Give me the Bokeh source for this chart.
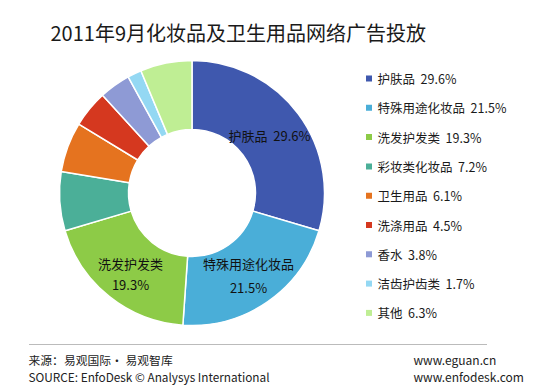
import math
from bokeh.plotting import figure
from bokeh.models import Range1d, ColumnDataSource
from bokeh.core.properties import value
from bokeh.embed import file_html
from bokeh.resources import INLINE

title = "2011年9月化妆品及卫生用品网络广告投放"
categories = ["护肤品", "特殊用途化妆品", "洗发护发类", "彩妆类化妆品", "卫生用品",
              "洗涤用品", "香水", "洁齿护齿类", "其他"]
shares = [29.6, 21.5, 19.3, 7.2, 6.1, 4.5, 3.8, 1.7, 6.3]
colors = ["#3F58AE", "#4AAED8", "#8DCB47", "#4BAF98", "#E5731F",
          "#D5381F", "#8E9AD5", "#94D8F3", "#BFEE94"]
footer_left = ["来源：易观国际· 易观智库", "SOURCE: EnfoDesk © Analysys International"]
footer_right = ["www.eguan.cn", "www.enfodesk.com"]

W, H = 547, 389
FONT = value("Noto Sans CJK SC")
GAP = "\u00a0\u00a0"

def Y(y):
    return H - y

p = figure(width=W, height=H, output_backend="svg", toolbar_location=None,
           x_range=Range1d(0, W), y_range=Range1d(0, H), min_border=0)
p.axis.visible = False
p.grid.visible = False
p.outline_line_color = None
p.background_fill_color = "white"
p.border_fill_color = "white"

# donut
cx, cy, r_out, r_in = 191.5, 192.5, 132.5, 63.5
total = sum(shares)
starts, ends = [], []
acc = 0.0
for s in shares:
    starts.append(math.pi / 2 - acc / total * 2 * math.pi)
    acc += s
    ends.append(math.pi / 2 - acc / total * 2 * math.pi)
src = ColumnDataSource(dict(start=starts, end=ends, color=colors))
p.annular_wedge(x=cx, y=Y(cy), inner_radius=r_in, outer_radius=r_out,
                start_angle="start", end_angle="end", direction="clock",
                fill_color="color", line_color="white", line_width=1.5, source=src)

# labels inside donut
def fmt(v):
    return f"{v:.1f}%"
p.text(x=[228], y=[Y(135)], text=[f"{categories[0]}{GAP}{fmt(shares[0])}"], text_font=FONT,
       text_font_size="13px", text_color="#111111", text_align="left", text_baseline="middle")
p.text(x=[248, 248], y=[Y(263), Y(287)], text=[categories[1], fmt(shares[1])], text_font=FONT,
       text_font_size="13px", text_color="#111111", text_align="center", text_baseline="middle")
p.text(x=[130, 130], y=[Y(263), Y(284)], text=[categories[2], fmt(shares[2])], text_font=FONT,
       text_font_size="13px", text_color="#111111", text_align="center", text_baseline="middle")

# title
p.text(x=[50], y=[Y(32)], text=[title], text_font=FONT, text_font_size="20px",
       text_color="#1a1a1a", text_align="left", text_baseline="middle")

# legend
ly0, ldy = 78, 29.3
lys = [Y(ly0 + i * ldy) for i in range(len(categories))]
p.rect(x=[368.5] * len(categories), y=lys, width=6, height=6, fill_color=colors, line_color=None)
p.text(x=[377] * len(categories), y=lys,
       text=[f"{c}{GAP}{fmt(s)}" for c, s in zip(categories, shares)], text_font=FONT,
       text_font_size="12.5px", text_color="#1a1a1a", text_align="left", text_baseline="middle")

# footer
p.segment(x0=[29], y0=[Y(344)], x1=[487], y1=[Y(344)], line_color="#777777",
          line_width=1, line_dash="1 1")
p.text(x=[28, 28], y=[Y(359), Y(376)], text=footer_left, text_font=FONT,
       text_font_size="11.8px", text_color="#222222", text_align="left", text_baseline="middle")
p.text(x=[413, 413], y=[Y(359), Y(376)], text=footer_right, text_font=FONT,
       text_font_size="12px", text_color="#222222", text_align="left", text_baseline="middle")

open("out.html", "w").write(file_html(p, INLINE))
